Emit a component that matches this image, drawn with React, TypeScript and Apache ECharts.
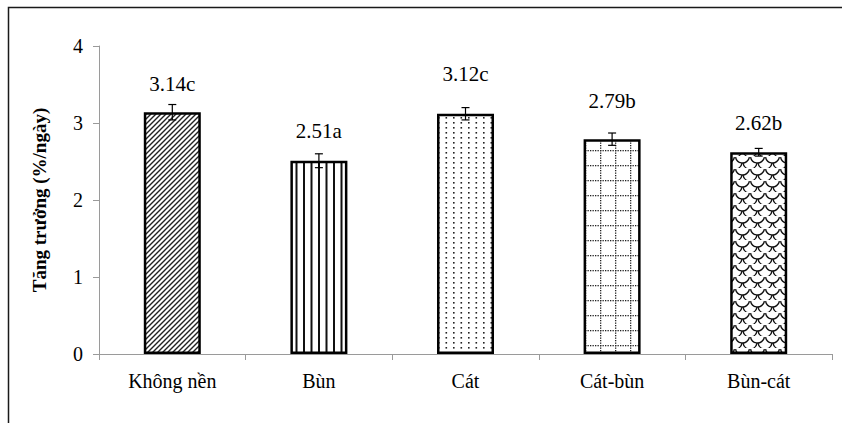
import React, { useEffect, useRef } from "react";
import * as echarts from "echarts";

const categories = ["Không nền", "Bùn", "Cát", "Cát-bùn", "Bùn-cát"];
const values = [3.14, 2.51, 3.12, 2.79, 2.62];
const errors = [0.1, 0.09, 0.08, 0.08, 0.05];
const letters = ["c", "a", "c", "b", "b"];
const yTicks = [0, 1, 2, 3, 4];

const FONT = "Liberation Serif";
const labelGaps = [18, 19, 29, 28, 19];

function makeCanvas(w: number, h: number) {
  const c = document.createElement("canvas");
  c.width = w;
  c.height = h;
  const ctx = c.getContext("2d")!;
  ctx.fillStyle = "#fff";
  ctx.fillRect(0, 0, w, h);
  return { c, ctx };
}

function pattern(kind: string) {
  let cv: HTMLCanvasElement;
  if (kind === "diag") {
    const { c, ctx } = makeCanvas(5, 5);
    ctx.strokeStyle = "#222";
    ctx.lineWidth = 1.4;
    ctx.beginPath();
    ctx.moveTo(-1, 6); ctx.lineTo(6, -1);
    ctx.moveTo(-1, 1); ctx.lineTo(1, -1);
    ctx.moveTo(4, 6); ctx.lineTo(6, 4);
    ctx.stroke();
    cv = c;
  } else if (kind === "vert") {
    const { c, ctx } = makeCanvas(15, 4);
    ctx.fillStyle = "#111";
    ctx.fillRect(3, 0, 2, 4);
    ctx.fillRect(10.5, 0, 2, 4);
    cv = c;
  } else if (kind === "dots") {
    const { c, ctx } = makeCanvas(15, 10);
    ctx.fillStyle = "#222";
    ctx.fillRect(3, 2, 1.6, 1.6);
    ctx.fillRect(10.5, 2, 1.6, 1.6);
    ctx.fillRect(3, 7, 1.6, 1.6);
    ctx.fillRect(10.5, 7, 1.6, 1.6);
    cv = c;
  } else if (kind === "grid") {
    const { c, ctx } = makeCanvas(15, 15);
    ctx.fillStyle = "#222";
    for (let i = 0; i < 15; i += 2.5) {
      ctx.fillRect(i, 0, 1.3, 1.3);
      ctx.fillRect(0, i, 1.3, 1.3);
    }
    cv = c;
  } else {
    const { c, ctx } = makeCanvas(15, 12);
    ctx.strokeStyle = "#111";
    ctx.lineWidth = 1.4;
    ctx.beginPath();
    ctx.arc(7.5, 0, 7, 0.15, Math.PI - 0.15);
    ctx.stroke();
    ctx.beginPath();
    ctx.arc(0, 6, 7, 0.15, Math.PI / 2);
    ctx.stroke();
    ctx.beginPath();
    ctx.arc(15, 6, 7, Math.PI / 2, Math.PI - 0.15);
    ctx.stroke();
    ctx.beginPath();
    ctx.arc(7.5, 12, 7, 0.15, Math.PI - 0.15);
    ctx.stroke();
    cv = c;
  }
  return { image: cv, repeat: "repeat", imageWidth: cv.width, imageHeight: cv.height } as any;
}

const patternKinds = ["diag", "vert", "dots", "grid", "scales"];

export default function App() {
  const ref = useRef<HTMLDivElement>(null);
  useEffect(() => {
    document.body.style.margin = "0";
    const chart = echarts.init(ref.current!, null, { renderer: "svg" });
    const option: any = {
      animation: false,
      backgroundColor: "#fff",
      textStyle: { fontFamily: FONT },
      grid: { left: 99, right: 10, top: 46, bottom: 69, containLabel: false },
      graphic: [
        {
          type: "polyline",
          shape: { points: [[8.5, 440], [8.5, 7.5], [860, 7.5]] },
          style: { stroke: "#1a1a1a", lineWidth: 1.5, fill: null },
          silent: true,
        },
      ],
      xAxis: {
        type: "category",
        data: categories,
        axisLine: { lineStyle: { color: "#9a9a9a", width: 1 } },
        axisTick: { show: true, length: 6, lineStyle: { color: "#9a9a9a" } },
        axisLabel: { color: "#000", fontSize: 20, fontFamily: FONT, margin: 17 },
        splitLine: { show: false },
      },
      yAxis: {
        type: "value",
        min: yTicks[0],
        max: yTicks[yTicks.length - 1],
        interval: 1,
        name: "Tăng trưởng (%/ngày)",
        nameLocation: "middle",
        nameGap: 50,
        nameTextStyle: { fontFamily: FONT, fontWeight: "bold", fontSize: 19, color: "#000" },
        axisLine: { show: true, lineStyle: { color: "#9a9a9a", width: 1 } },
        axisTick: { show: true, length: 6, lineStyle: { color: "#9a9a9a" } },
        axisLabel: { color: "#000", fontSize: 20, fontFamily: FONT, margin: 16 },
        splitLine: { show: false },
      },
      series: [
        {
          type: "bar",
          barWidth: 57,
          data: values.map((v, i) => ({
            value: v,
            itemStyle: {
              color: pattern(patternKinds[i]),
              borderColor: "#000",
              borderWidth: 2.5,
            },
            label: {
              show: true,
              position: "top",
              distance: labelGaps[i],
              formatter: () => v.toFixed(2) + letters[i],
              color: "#000",
              fontSize: 21,
              fontFamily: FONT,
            },
          })),
        },
        {
          type: "custom",
          data: values.map((v, i) => [i, v, errors[i]]),
          z: 10,
          renderItem: (params: any, api: any) => {
            const i = api.value(0);
            const v = api.value(1);
            const e = api.value(2);
            const hi = api.coord([i, v + e]);
            const lo = api.coord([i, v - e]);
            const w = 4;
            const st = { stroke: "#000", lineWidth: 1.2 };
            return {
              type: "group",
              children: [
                { type: "line", shape: { x1: hi[0], y1: hi[1], x2: lo[0], y2: lo[1] }, style: st },
                { type: "line", shape: { x1: hi[0] - w, y1: hi[1], x2: hi[0] + w, y2: hi[1] }, style: st },
                { type: "line", shape: { x1: lo[0] - w, y1: lo[1], x2: lo[0] + w, y2: lo[1] }, style: st },
              ],
            };
          },
        },
      ],
    };
    chart.setOption(option);
    return () => chart.dispose();
  }, []);
  return <div ref={ref} style={{ width: 842, height: 423, background: "#fff" }} />;
}
